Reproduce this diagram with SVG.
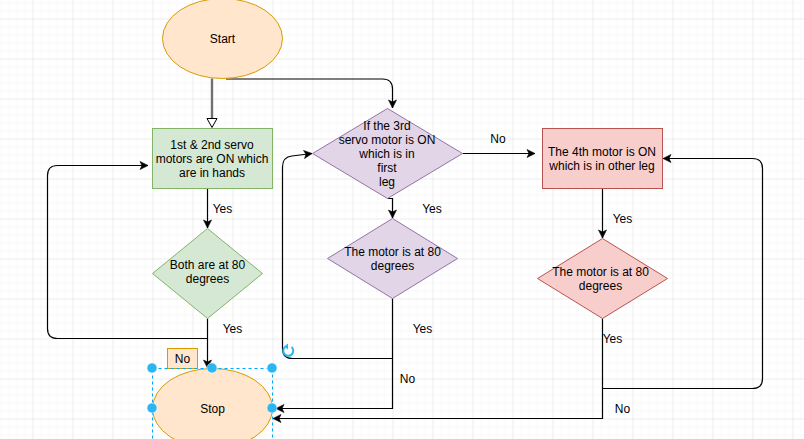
<svg xmlns="http://www.w3.org/2000/svg" width="804" height="439" viewBox="0 0 804 439">
<defs>
<pattern id="minor" width="8" height="8" patternUnits="userSpaceOnUse" x="0.5" y="2.5"><path d="M0 0H8M0 0V8" fill="none" stroke="#f3f3f3" stroke-width="1"/></pattern>
<pattern id="major" width="40" height="40" patternUnits="userSpaceOnUse" x="32.5" y="18.5"><path d="M0 0H40M0 0V40" fill="none" stroke="#e3e3e3" stroke-width="1"/></pattern>
<marker id="arr" markerUnits="userSpaceOnUse" markerWidth="12" markerHeight="12" refX="8" refY="4" orient="auto" overflow="visible"><path d="M0 0L8 4L0 8L2 4Z" fill="#000" stroke="#000" stroke-width="0.6"/></marker>
</defs>
<style>
text{font-family:"Liberation Sans",Arial,sans-serif;font-size:12px;fill:#000;text-anchor:middle}
.c{fill:none;stroke:#000;stroke-width:1.2}
.a{marker-end:url(#arr)}
.o{fill:#ffe6cc;stroke:#d79b00;stroke-width:1}
.g{fill:#d5e8d4;stroke:#82b366;stroke-width:1}
.p{fill:#e1d5e7;stroke:#9673a6;stroke-width:1}
.r{fill:#f8cecc;stroke:#b85450;stroke-width:1}
.h{fill:#29b6f2;stroke:#fff;stroke-width:0.5}
</style>
<rect width="804" height="439" fill="#fff"/>
<rect width="804" height="439" fill="url(#minor)"/>
<rect width="804" height="439" fill="url(#major)"/>

<g id="connectors">
<path d="M212 78.5V118" fill="none" stroke="#707070" stroke-width="2.4"/>
<path d="M207 118.5H217L212 127.5Z" fill="#fff" stroke="#000" stroke-width="1"/>
<path class="c a" d="M226 79H382.5Q392.5 79 392.5 89V108"/>
<path class="c a" d="M207.5 188.5V228"/>
<path class="c a" d="M207.5 318.5V368"/>
<path class="c a" d="M207.5 338.5H57.5Q47.5 338.5 47.5 328.5V175.5Q47.5 165.5 57.5 165.5H148"/>
<path class="c a" d="M387.5 198.5H392.5V218"/>
<path class="c a" d="M462.5 153.5H535"/>
<path class="c a" d="M392.5 298.5V408.5H276"/>
<path class="c a" d="M392.5 358.5H292.5Q282.5 358.5 282.5 348.5V167Q282.5 157 292 156L312 153.5"/>
<path class="c a" d="M602.5 188.5V238"/>
<path class="c a" d="M602.5 318.5V418.5H273"/>
<path class="c a" d="M602.5 388.5H752.5Q762.5 388.5 762.5 378.5V168.5Q762.5 158.5 752.5 158.5H663"/>
</g>

<g id="node-start"><ellipse class="o" cx="222.5" cy="38.5" rx="60" ry="40"/><text x="222.5" y="42.5">Start</text></g>
<g id="node-servo12"><rect class="g" x="152.5" y="128.5" width="120" height="60"/><text x="212" y="149">1st &amp; 2nd servo</text><text x="212" y="163">motors are ON which</text><text x="212" y="177">are in hands</text></g>
<g id="node-both"><path class="g" d="M207.5 228.5L262.5 273.5L207.5 318.5L152.5 273.5Z"/><text x="207.5" y="269">Both are at 80</text><text x="207.5" y="283">degrees</text></g>
<g id="node-third"><path class="p" d="M387.5 108.5L462.5 153.5L387.5 198.5L312.5 153.5Z"/><text x="387" y="130">If the 3rd</text><text x="387" y="144">servo motor is ON</text><text x="387" y="158">which is in</text><text x="387" y="172">first</text><text x="387" y="186">leg</text></g>
<g id="node-motor3"><path class="p" d="M392.5 218.5L457.5 258.5L392.5 298.5L327.5 258.5Z"/><text x="392.5" y="256">The motor is at 80</text><text x="392.5" y="270">degrees</text></g>
<g id="node-fourth"><rect class="r" x="542.5" y="128.5" width="120" height="60"/><text x="602" y="155.5">The 4th motor is ON</text><text x="602" y="169.5">which is in other leg</text></g>
<g id="node-motor4"><path class="r" d="M602.5 238.5L667.5 278.5L602.5 318.5L537.5 278.5Z"/><text x="600.5" y="275.5">The motor is at 80</text><text x="600.5" y="289.5">degrees</text></g>
<g id="node-stop"><ellipse class="o" cx="212.5" cy="408.5" rx="60" ry="40"/><text x="212.5" y="413">Stop</text></g>

<g id="labels">
<text x="222.5" y="212.5">Yes</text>
<text x="232.5" y="332.5">Yes</text>
<text x="432" y="212.5">Yes</text>
<text x="498" y="142.5">No</text>
<text x="422.5" y="332.5">Yes</text>
<text x="407.5" y="382.5">No</text>
<text x="622.5" y="222.5">Yes</text>
<text x="612.5" y="342.5">Yes</text>
<text x="622.5" y="412.5">No</text>
</g>
<g id="node-no"><rect class="o" x="167.5" y="348.5" width="30" height="20"/><text x="182.5" y="362.5">No</text></g>

<g id="selection">
<rect x="152.5" y="368.5" width="120" height="80" fill="none" stroke="#00a8ff" stroke-width="1" stroke-dasharray="3 3"/>
<circle class="h" cx="152" cy="368" r="5"/><circle class="h" cx="212" cy="368" r="5"/><circle class="h" cx="272" cy="368" r="5"/>
<circle class="h" cx="152" cy="408" r="5"/><circle class="h" cx="272" cy="408" r="5"/>
<path d="M291.5 347A5 5 0 1 1 285 347" fill="none" stroke="#29b6f2" stroke-width="2"/>
<path d="M288 343.5V349.5L284 346.5Z" fill="#29b6f2"/>
</g>
</svg>
